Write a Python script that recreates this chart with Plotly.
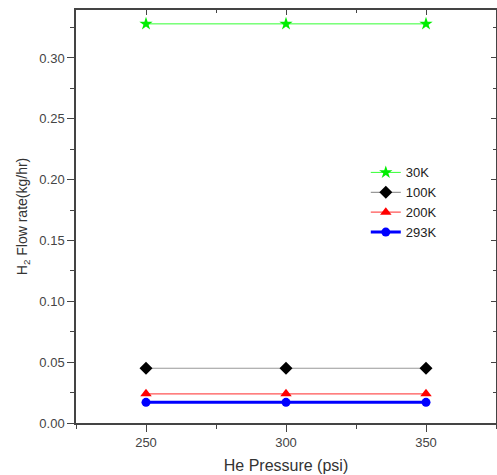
import plotly.graph_objects as go

pressure = [250, 300, 350]
flow_30k = [0.328, 0.328, 0.328]
flow_100k = [0.045, 0.045, 0.045]
flow_200k = [0.024, 0.024, 0.024]
flow_293k = [0.017, 0.017, 0.017]
series_names = ["30K", "100K", "200K", "293K"]

fig = go.Figure()
fig.add_trace(go.Scatter(x=pressure, y=flow_30k, name=series_names[0], mode="lines+markers",
                         line=dict(color="#33ff33", width=1),
                         marker=dict(symbol="star", size=10, color="#00ee00")))
fig.add_trace(go.Scatter(x=pressure, y=flow_100k, name=series_names[1], mode="lines+markers",
                         line=dict(color="#999999", width=1.2),
                         marker=dict(symbol="diamond", size=10, color="black")))
fig.add_trace(go.Scatter(x=pressure, y=flow_200k, name=series_names[2], mode="lines+markers",
                         line=dict(color="#ff5555", width=1.2),
                         marker=dict(symbol="triangle-up", size=10, color="red")))
fig.add_trace(go.Scatter(x=pressure, y=flow_293k, name=series_names[3], mode="lines+markers",
                         line=dict(color="blue", width=3),
                         marker=dict(symbol="circle", size=9, color="blue")))

axis_color = "#444444"
fig.update_layout(
    width=497, height=475,
    margin=dict(l=76, r=1, t=10, b=52),
    paper_bgcolor="white", plot_bgcolor="white",
    font=dict(family="Liberation Sans, Arial, sans-serif", size=13, color="#333333"),
    showlegend=True,
    legend=dict(x=0.69, y=0.643, xanchor="left", yanchor="top",
                bgcolor="rgba(0,0,0,0)", font=dict(size=13, color="#222222"),
                tracegroupgap=0, itemwidth=30),
    xaxis=dict(range=[225, 375], tickvals=[250, 300, 350], showgrid=False, zeroline=False,
               showline=True, linecolor=axis_color, linewidth=1.5,
               ticks="outside", ticklen=7, tickcolor=axis_color, tickwidth=1.2,
               minor=dict(ticks="outside", dtick=25, tick0=225, ticklen=4, tickcolor=axis_color, showgrid=False),
               title=dict(text="He Pressure (psi)", font=dict(size=16, color="#333333"), standoff=10),
               tickfont=dict(size=13, color="#444444")),
    yaxis=dict(range=[0, 0.3394], dtick=0.05, tick0=0, tickformat=".2f", showgrid=False, zeroline=False,
               showline=True, linecolor=axis_color, linewidth=1.5,
               ticks="outside", ticklen=7, tickcolor=axis_color, tickwidth=1.2,
               minor=dict(ticks="outside", dtick=0.025, ticklen=4, tickcolor=axis_color, showgrid=False),
               title=dict(text="H<sub>2</sub> Flow rate(kg/hr)", font=dict(size=14, color="#333333"), standoff=8),
               tickfont=dict(size=13, color="#444444")),
    xaxis2=dict(overlaying="x", side="top", range=[225, 375], tickvals=[250, 300, 350],
                showticklabels=False, showgrid=False, zeroline=False, showline=True,
                linecolor=axis_color, linewidth=1.5, ticks="inside", ticklen=5, tickcolor=axis_color,
                minor=dict(ticks="inside", dtick=25, tick0=225, ticklen=3, tickcolor=axis_color)),
    yaxis2=dict(overlaying="y", side="right", range=[0, 0.3394], dtick=0.05, tick0=0,
                showticklabels=False, showgrid=False, zeroline=False, showline=True,
                linecolor=axis_color, linewidth=1.5, ticks="inside", ticklen=5, tickcolor=axis_color,
                minor=dict(ticks="inside", dtick=0.025, ticklen=3, tickcolor=axis_color)),
)
fig.add_trace(go.Scatter(x=[None], y=[None], xaxis="x2", yaxis="y2", showlegend=False, hoverinfo="skip"))

fig.write_html("out.html", config={"displayModeBar": False},
               post_script="document.body.style.margin='0';document.body.style.overflow='hidden';")
